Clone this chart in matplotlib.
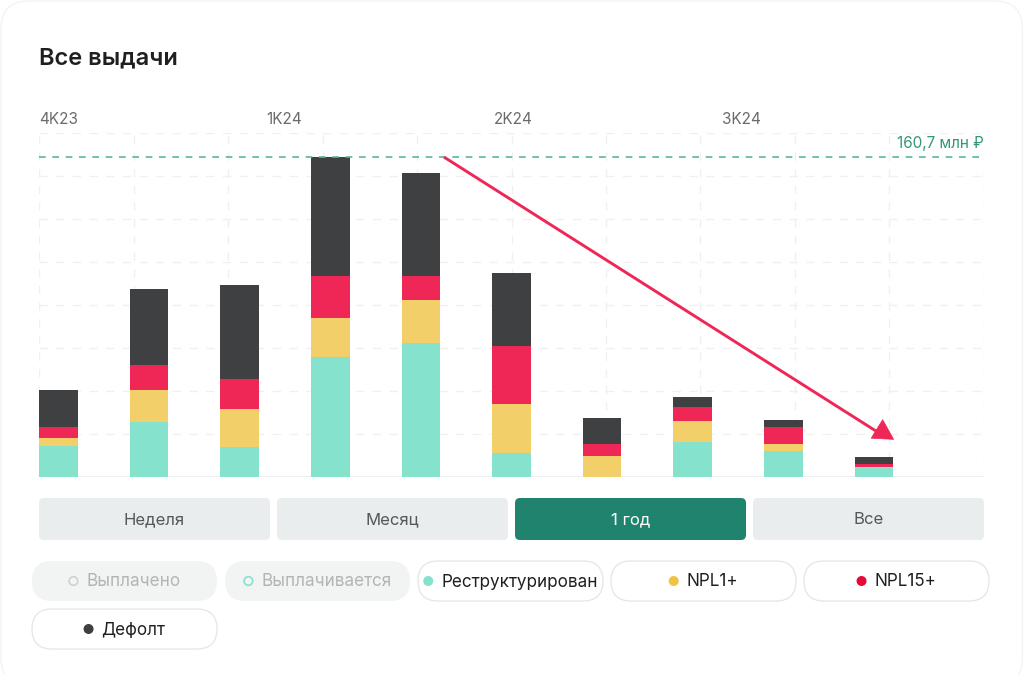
import matplotlib
matplotlib.use("Agg")
import matplotlib.pyplot as plt
import matplotlib.transforms as mtransforms
from matplotlib.patches import FancyBboxPatch, Polygon, Circle
import numpy as np

# ---------------- data ----------------
periods = ["w1", "w2", "w3", "w4", "w5", "w6", "w7", "w8", "w9", "w10", "w11"]
restructured = [15.6, 27.6, 15.1, 60.1, 67.3, 11.9, 0.0, 17.4, 12.9, 4.7, 0.0]
npl1 = [3.9, 16.1, 18.9, 19.7, 21.6, 24.6, 10.5, 10.9, 3.5, 0.3, 0.0]
npl15 = [5.8, 12.7, 15.2, 21.2, 12.2, 29.3, 5.9, 6.9, 8.5, 1.7, 0.0]
default = [18.4, 38.0, 47.2, 59.7, 51.7, 36.5, 13.4, 5.0, 3.5, 3.5, 0.0]
quarter_labels = ["4K23", "1K24", "2K24", "3K24"]
max_value = 160.7
max_label = "160,7 млн ₽"
buttons = ["Неделя", "Месяц", "1 год", "Все"]
selected_button = "1 год"
legend_items = ["Выплачено", "Выплачивается", "Реструктурирован", "NPL1+", "NPL15+", "Дефолт"]

# ---------------- style ----------------
FONT = ["Inter", "DejaVu Sans"]
plt.rcParams["font.family"] = FONT
C_TEAL = "#84e2cd"
C_YEL = "#f2cf69"
C_RED = "#ef2756"
C_DARK = "#3f4042"
C_GREEN = "#20836d"
C_GRID = "#f0f0f0"

W, H = 1024, 675
fig = plt.figure(figsize=(W / 100, H / 100), dpi=100)
fig.patch.set_facecolor("white")

# background overlay axes in pixel coordinates
bg = fig.add_axes([0, 0, 1, 1], zorder=0)
bg.set_xlim(0, W)
bg.set_ylim(H, 0)
bg.axis("off")

# card border (very faint)
bg.add_patch(FancyBboxPatch((1, 1), W - 2.5, H + 10,
                            boxstyle="round,pad=0,rounding_size=28",
                            fc="white", ec="#f3f3f3", lw=1.0))

bg.text(39, 58, "Все выдачи", fontsize=17, fontweight="semibold",
        color="#1e1f21", va="center", ha="left")

# ---------------- chart ----------------
px_left, px_right, px_top, px_bot = 39.3, 983.7, 133, 477
ax = fig.add_axes([px_left / W, 1 - px_bot / H, (px_right - px_left) / W,
                   (px_bot - px_top) / H], zorder=2)
ax.patch.set_alpha(0)

bw = 0.424
x = np.arange(len(periods))
xlim = (-bw / 2, len(periods) - 1 + bw / 2)
ymax = 172.8
ax.set_xlim(*xlim)
ax.set_ylim(0, ymax)

for s in ax.spines.values():
    s.set_visible(False)
ax.set_xticks(np.linspace(xlim[0], xlim[1], 11))
ax.set_yticks(np.linspace(0, ymax, 9))
ax.tick_params(length=0, labelbottom=False, labelleft=False)
ax.grid(True, color=C_GRID, lw=1.0, linestyle=(0, (6, 6)), zorder=0)
ax.set_axisbelow(True)
ax.axhline(0, color="#efefef", lw=1.6, zorder=1)

bottom = np.zeros(len(periods))
for vals, col in [(restructured, C_TEAL), (npl1, C_YEL), (npl15, C_RED), (default, C_DARK)]:
    v = np.array(vals)
    ax.bar(x, v, bw, bottom=bottom, color=col, edgecolor="none", zorder=3)
    bottom = bottom + v

# max line
ax.axhline(max_value, color="#58b89a", lw=1.2, linestyle=(0, (4, 4)), zorder=4)
ax.text(xlim[1], max_value + 7.0, max_label, color="#35967a", fontsize=11,
        ha="right", va="center", family=FONT)

# quarter labels
trans = mtransforms.blended_transform_factory(ax.transData, ax.transAxes)
q_step = 2.51
for k, lab in enumerate(quarter_labels):
    ax.text(xlim[0] + k * q_step, 1.038, lab, transform=trans, fontsize=11,
            color="#6b6b6b", ha="left", va="center", clip_on=False)

# red arrow annotation
ax.plot([4.255, 9.05], [160.7, 22.3], color=C_RED, lw=2.1, solid_capstyle="butt", zorder=6)
ax.add_patch(Polygon([[9.097, 28.8], [8.970, 19.5], [9.218, 18.9]], closed=True,
                     fc=C_RED, ec=C_RED, lw=0.5, zorder=6))

# ---------------- buttons ----------------
btn_x = [39, 277, 515, 753]
btn_w, btn_y, btn_h = 231, 498, 42
for bx, lab in zip(btn_x, buttons):
    sel = lab == selected_button
    bg.add_patch(FancyBboxPatch((bx, btn_y), btn_w, btn_h,
                                boxstyle="round,pad=0,rounding_size=5",
                                fc=C_GREEN if sel else "#e9eded", ec="none"))
    bg.text(bx + btn_w / 2, btn_y + btn_h / 2 + 1, lab, fontsize=12,
            color="white" if sel else "#555759", ha="center", va="center")

# ---------------- legend pills ----------------
pill_pos = [(32, 561), (225, 561), (418, 561), (611, 561), (804, 561), (32, 609)]
pill_w, pill_h = 185, 40
marker_style = [
    ("ring", "#cfd2d2", "#b3b5b5", "#f2f3f3", "none"),
    ("ring", "#84e2cd", "#b3b5b5", "#f2f3f3", "none"),
    ("dot", C_TEAL, "#1e1f21", "white", "#e6e8e8"),
    ("dot", "#f0c443", "#1e1f21", "white", "#e6e8e8"),
    ("dot", "#e8093a", "#1e1f21", "white", "#e6e8e8"),
    ("dot", C_DARK, "#1e1f21", "white", "#e6e8e8"),
]
fig.canvas.draw()
renderer = fig.canvas.get_renderer()
for (px, py), lab, (kind, mcol, tcol, fcol, ecol) in zip(pill_pos, legend_items, marker_style):
    bg.add_patch(FancyBboxPatch((px, py), pill_w, pill_h,
                                boxstyle="round,pad=0,rounding_size=20",
                                fc=fcol, ec=ecol, lw=1.0))
    t = bg.text(0, py + pill_h / 2 + 1, lab, fontsize=12.3, color=tcol,
                ha="left", va="center")
    tw = t.get_window_extent(renderer).width
    gap, r = 8, 5
    group = 2 * r + gap + tw
    start = px + pill_w / 2 - group / 2
    t.set_x(start + 2 * r + gap)
    if kind == "ring":
        bg.add_patch(Circle((start + r, py + pill_h / 2), r - 0.7, fc="none", ec=mcol, lw=1.2))
    else:
        bg.add_patch(Circle((start + r, py + pill_h / 2), r, fc=mcol, ec="none"))

fig.savefig("out.png", dpi=100, facecolor="white")
